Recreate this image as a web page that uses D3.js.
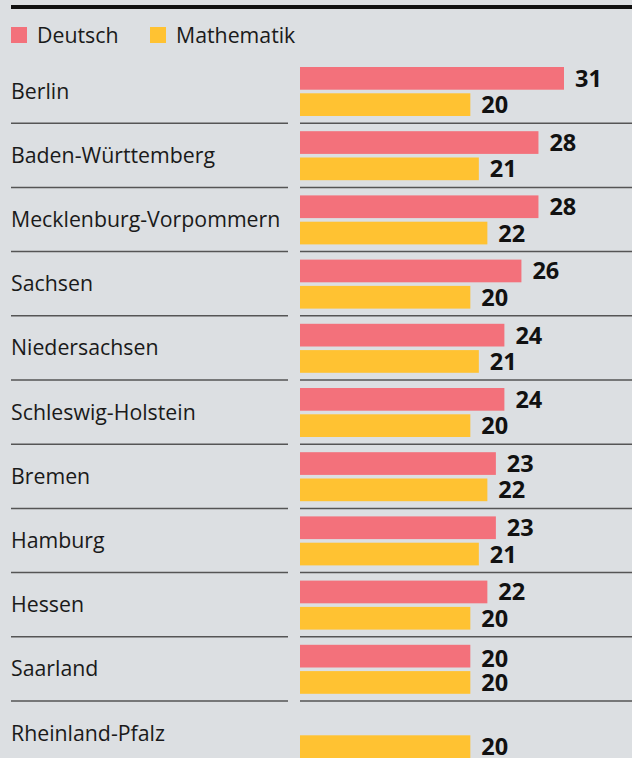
<!DOCTYPE html>
<html><head><meta charset="utf-8">
<script src="https://cdn.jsdelivr.net/npm/d3@7"></script>
<style>
html,body{margin:0;padding:0;background:#dcdfe2;}
svg{display:block;}
text{font-family:"Open Sans",sans-serif;}
</style></head><body>
<svg id="chart" width="632" height="758"></svg>
<script>
const categories = ["Berlin","Baden-Württemberg","Mecklenburg-Vorpommern","Sachsen","Niedersachsen","Schleswig-Holstein","Bremen","Hamburg","Hessen","Saarland","Rheinland-Pfalz"];
const seriesNames = ["Deutsch","Mathematik"];
const deutsch = [31,28,28,26,24,24,23,23,22,20,null];
const mathematik = [20,21,22,20,21,20,22,21,20,20,20];
const colors = ["#f3717b","#ffc232"];

const W = 632, H = 758;
const svg = d3.select("#chart");
svg.append("rect").attr("width",W).attr("height",H).attr("fill","#dcdfe2");

// top rule
svg.append("line").attr("x1",11).attr("x2",W).attr("y1",7).attr("y2",7)
  .attr("stroke","#111").attr("stroke-width",4);

// legend
const leg = svg.append("g");
const legX = [11,150];
seriesNames.forEach((s,i)=>{
  leg.append("rect").attr("x",legX[i]).attr("y",27).attr("width",16).attr("height",16).attr("fill",colors[i]);
  leg.append("text").attr("x",legX[i]+26).attr("y",42.5).attr("font-size",21.3).attr("fill","#1a1a1a").text(s);
});

const y = d3.scaleBand().domain(categories).range([59, 59+64.2*categories.length]);
const inner = d3.scaleBand().domain(seriesNames).range([8,57]).paddingInner(0.137);
const x = d3.scaleLinear().domain([0,31]).range([300,564]);

const data = categories.map((c,i)=>({cat:c, vals:[deutsch[i], mathematik[i]]}));

const rows = svg.append("g").selectAll("g").data(data).join("g")
  .attr("transform",d=>`translate(0,${y(d.cat)})`);

rows.append("text").attr("x",11).attr("y",y.bandwidth()/2).attr("dy","0.35em")
  .attr("font-size",21.3).attr("fill","#1a1a1a").text(d=>d.cat);

rows.each(function(d,ri){
  const g = d3.select(this);
  const same = d.vals[0]!=null && d.vals[0]===d.vals[1];
  d.vals.forEach((v,si)=>{
    if(v==null) return;
    const yy = inner(seriesNames[si]);
    g.append("rect").attr("x",x(0)).attr("y",yy).attr("width",x(v)-x(0)).attr("height",inner.bandwidth()).attr("fill",colors[si]);
    const nudge = (same && si===0) ? 2.4 : 0;
    g.append("text").attr("x",x(v)+11).attr("y",yy+inner.bandwidth()/2+nudge).attr("dy","0.36em")
      .attr("font-size",23.5).attr("font-weight","bold").attr("fill","#111").text(v);
  });
  if(ri < categories.length-1){
    g.append("line").attr("x1",11).attr("x2",288).attr("y1",y.bandwidth()).attr("y2",y.bandwidth())
      .attr("stroke","#555").attr("stroke-width",1.5);
    g.append("line").attr("x1",300).attr("x2",W).attr("y1",y.bandwidth()).attr("y2",y.bandwidth())
      .attr("stroke","#555").attr("stroke-width",1.5);
  }
});
</script></body></html>
